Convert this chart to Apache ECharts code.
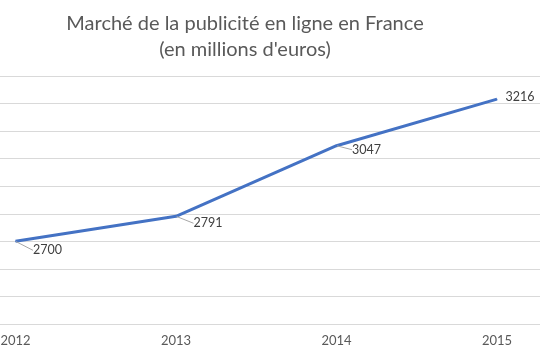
<!DOCTYPE html>
<html>
<head>
<meta charset="utf-8">
<script src="https://cdn.jsdelivr.net/npm/echarts@6/dist/echarts.min.js"></script>
<style>html,body{margin:0;padding:0;background:#fff}#c{width:540px;height:359px}</style>
</head>
<body>
<div id="c"></div>
<script>
var categories = ['2012', '2013', '2014', '2015'];
var values = [2700, 2791, 3047, 3216];
var titleText = 'Marché de la publicité en ligne en France\n(en millions d\'euros)';

var labelShift = [[12, 9], [12, 7], [10, 4], [3, -2]];
var showGuide = [true, true, true, false];
var chart = echarts.init(document.getElementById('c'));
chart.setOption({
  animation: false,
  title: {
    text: titleText,
    left: 240,
    textAlign: 'center',
    top: 6,
    textStyle: {fontFamily: 'Lato', fontSize: 20, fontWeight: 'normal', color: '#595959', lineHeight: 26}
  },
  grid: {left: -64.75, right: -37.25, top: 76, bottom: 35, outerBoundsMode: 'none', containLabel: false},
  xAxis: {
    type: 'category',
    data: categories,
    boundaryGap: true,
    axisLine: {show: true, lineStyle: {color: '#d9d9d9', width: 1}},
    axisTick: {show: false},
    axisLabel: {fontFamily: 'Lato', fontSize: 13, color: '#595959', margin: 10}
  },
  yAxis: {
    type: 'value',
    min: 2400, max: 3300, interval: 100,
    axisLabel: {show: false},
    axisLine: {show: false},
    axisTick: {show: false},
    splitLine: {lineStyle: {color: '#d9d9d9', width: 1}}
  },
  series: [{
    type: 'line',
    data: values.map(function (v, i) {
      return {value: v, labelLine: {show: showGuide[i]}};
    }),
    symbol: 'circle',
    symbolSize: 1,
    showSymbol: true,
    itemStyle: {color: '#4472C4'},
    lineStyle: {color: '#4472C4', width: 3},
    label: {
      show: true,
      position: 'right',
      distance: 5,
      fontFamily: 'Lato',
      fontSize: 12.5,
      color: '#404040'
    },
    labelLayout: function (p) {
      var s = labelShift[p.dataIndex];
      return {dx: s[0], dy: s[1]};
    },
    labelLine: {show: true, lineStyle: {color: '#a6a6a6', width: 1}}
  }]
});
</script>
</body>
</html>
